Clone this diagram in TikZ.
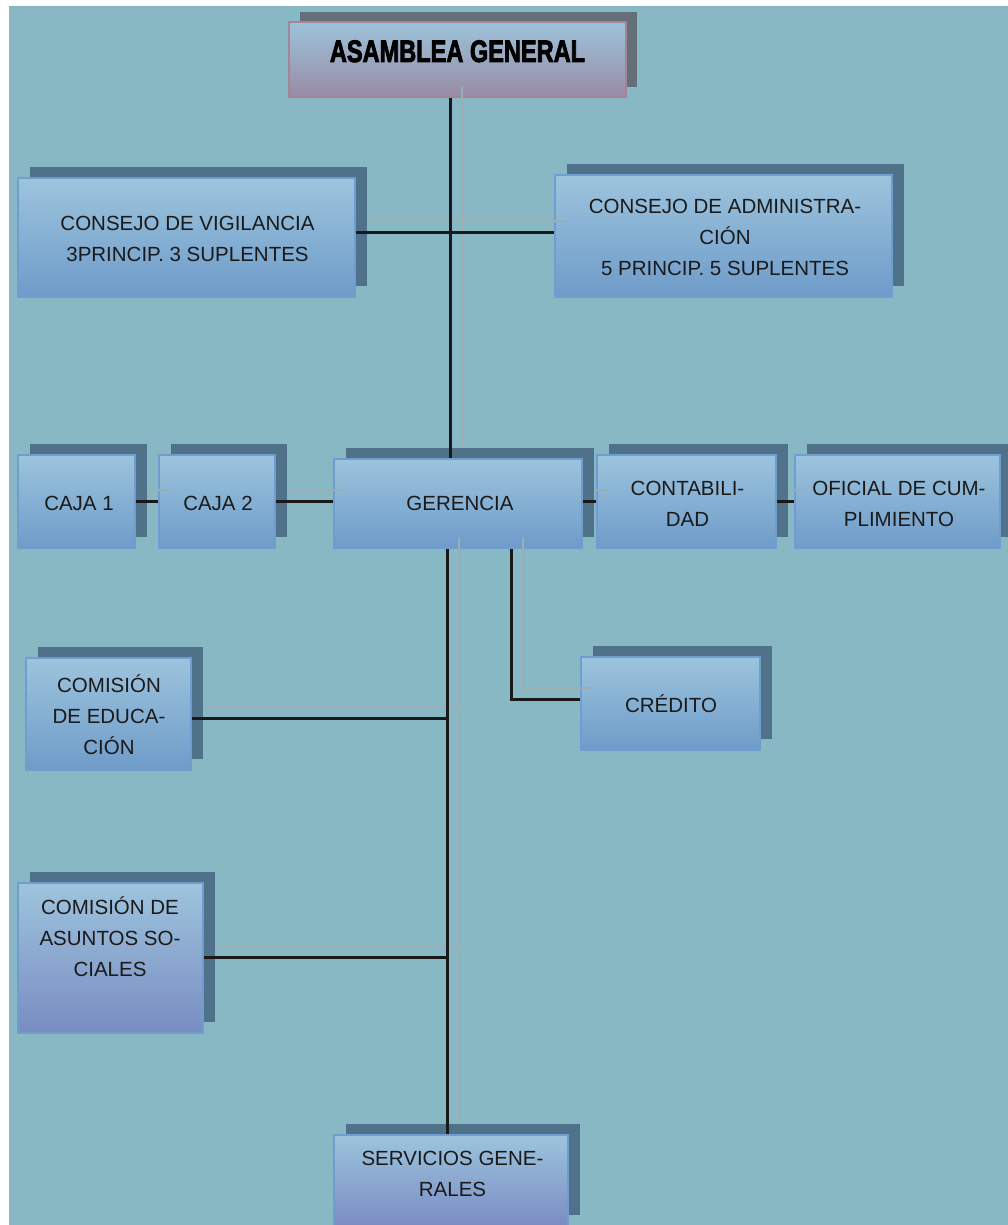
\documentclass[tikz,border=0pt]{standalone}
\usepackage{fontspec}
\setmainfont{Liberation Sans}
\newfontfamily\heavyfont{Liberation Sans}[BoldFeatures={FakeBold=3}]
\usetikzlibrary{shadows,calc}
\definecolor{bg}{HTML}{88B8C3}
\definecolor{boxtop}{HTML}{9DC4DD}
\definecolor{boxbot}{HTML}{6E9BC9}
\definecolor{lavbot}{HTML}{7A8CC2}
\definecolor{boxline}{HTML}{6F9DD0}
\definecolor{shadowc}{HTML}{4F7189}
\definecolor{astop}{HTML}{9BC3DA}
\definecolor{asbot}{HTML}{9A8BA5}
\definecolor{asline}{HTML}{A48598}
\definecolor{asshadow}{HTML}{656F77}
\definecolor{txt}{HTML}{1A1A1A}
\definecolor{grayline}{HTML}{9AAEB3}
\begin{document}
\begin{tikzpicture}[x=1pt,y=-1pt,
  box/.style={rectangle, inner sep=0pt, draw=boxline, line width=1.2pt,
    top color=boxtop, bottom color=boxbot,
    drop shadow={shadow xshift=12pt, shadow yshift=11pt, fill=shadowc, opacity=1}},
  lav/.style={top color=boxtop, bottom color=lavbot},
  asbox/.style={rectangle, inner sep=0pt, draw=asline, line width=1.2pt,
    top color=astop, bottom color=asbot,
    drop shadow={shadow xshift=11pt, shadow yshift=10pt, fill=asshadow, opacity=1}},
  lbl/.style={font=\fontsize{20.5}{31}\selectfont, text=txt, align=center, inner sep=0pt},
  blk/.style={draw=black!90, line width=3pt},
  gry/.style={draw=grayline, line width=1.6pt}]
\useasboundingbox (0,0) rectangle (1008,1225);
\fill[white] (0,0) rectangle (1008,1225);
\fill[bg] (9,6) rectangle (1008,1225);

% boxes
\node[asbox, minimum width=337pt, minimum height=75pt] (asam) at (457.5,59.5) {};
\node[box, minimum width=337pt, minimum height=119pt] (vig) at (186.5,237.5) {};
\node[box, minimum width=337pt, minimum height=122pt] (adm) at (723.5,236) {};
\node[box, minimum width=117pt, minimum height=93pt] (caja1) at (76.5,501.5) {};
\node[box, minimum width=116pt, minimum height=93pt] (caja2) at (217,501.5) {};
\node[box, minimum width=248pt, minimum height=89pt] (ger) at (458,503.5) {};
\node[box, minimum width=179pt, minimum height=93pt] (cont) at (686.5,501.5) {};
\node[box, minimum width=205pt, minimum height=93pt] (ofic) at (897.5,501.5) {};
\node[box, minimum width=165pt, minimum height=112pt] (edu) at (108.5,714) {};
\node[box, minimum width=179pt, minimum height=93pt] (cred) at (670.5,703.5) {};
\node[box, lav, minimum width=185pt, minimum height=150pt] (soc) at (110.5,958) {};
\node[box, lav, minimum width=234pt, minimum height=91pt] (serv) at (451,1180.5) {};

% texts
\node[anchor=base, inner sep=0pt, text=black] (tasam) at (457.5,62)
  {\scalebox{0.76}[1]{\heavyfont\bfseries\fontsize{31}{31}\selectfont ASAMBLEA GENERAL}};
\node[lbl] (tvig) at (187.5,239) {CONSEJO DE VIGILANCIA\\3PRINCIP. 3 SUPLENTES};
\node[lbl] (tadm) at (725,237) {CONSEJO DE ADMINISTRA-\\CIÓN\\5 PRINCIP. 5 SUPLENTES};
\node[lbl] (tc1) at (79,503.5) {CAJA 1};
\node[lbl] (tc2) at (218,503.5) {CAJA 2};
\node[lbl] (tger) at (460,503.5) {GERENCIA};
\node[lbl] (tcont) at (687.5,504) {CONTABILI-\\DAD};
\node[lbl] (tofic) at (899,504) {OFICIAL DE CUM-\\PLIMIENTO};
\node[lbl] (tedu) at (109,715) {COMISIÓN\\DE EDUCA-\\CIÓN};
\node[lbl] (tcred) at (671,704) {CRÉDITO};
\node[lbl] (tsoc) at (110,937) {COMISIÓN DE\\ASUNTOS SO-\\CIALES};
\node[lbl] (tserv) at (452.5,1174) {SERVICIOS GENE-\\RALES};

% helper coordinates
\coordinate (tA) at (450,0);
\coordinate (tB) at (447,0);
\coordinate (cx) at (511,0);
\coordinate (rV) at (0,232);
\coordinate (rM) at (0,501);
\coordinate (rC) at (0,699);
\coordinate (rE) at (0,718);
\coordinate (rS) at (0,957);

% light (shadow) connectors
\draw[gry] ($(asam.south -| tA)+(12,-11)$) -- ($(ger.north -| tA)+(12,-11)$);
\draw[gry] ($(vig.east |- rV)+(12,-11)$) -- ($(adm.west |- rV)+(12,-11)$);
\draw[gry] ($(caja1.east |- rM)+(12,-11)$) -- ($(caja2.west |- rM)+(12,-11)$);
\draw[gry] ($(caja2.east |- rM)+(12,-11)$) -- ($(ger.west |- rM)+(12,-11)$);
\draw[gry] ($(ger.east |- rM)+(12,-11)$) -- ($(cont.west |- rM)+(12,-11)$);
\draw[gry] ($(cont.east |- rM)+(12,-11)$) -- ($(ofic.west |- rM)+(12,-11)$);
\draw[gry] ($(ger.south -| tB)+(12,-11)$) -- ($(serv.north -| tB)+(12,-11)$);
\draw[gry] ($(ger.south -| cx)+(12,-11)$) |- ($(cred.west |- rC)+(12,-11)$);
\draw[gry] ($(edu.east |- rE)+(12,-11)$) -- ($(rE -| tB)+(12,-11)$);
\draw[gry] ($(soc.east |- rS)+(12,-11)$) -- ($(rS -| tB)+(12,-11)$);

% main connectors
\draw[blk] (asam.south -| tA) -- (ger.north -| tA);
\draw[blk] (vig.east |- rV) -- (adm.west |- rV);
\draw[blk] (caja1.east |- rM) -- (caja2.west |- rM);
\draw[blk] (caja2.east |- rM) -- (ger.west |- rM);
\draw[blk] (ger.east |- rM) -- (cont.west |- rM);
\draw[blk] (cont.east |- rM) -- (ofic.west |- rM);
\draw[blk] (ger.south -| tB) -- (serv.north -| tB);
\draw[blk] (ger.south -| cx) |- (cred.west |- rC);
\draw[blk] (edu.east |- rE) -- (rE -| tB);
\draw[blk] (soc.east |- rS) -- (rS -| tB);
\end{tikzpicture}
\end{document}
